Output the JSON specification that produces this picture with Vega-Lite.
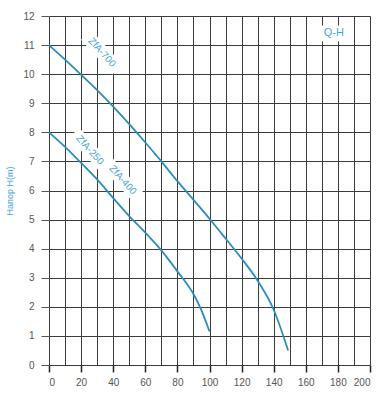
{
  "$schema": "https://vega.github.io/schema/vega-lite/v6.json",
  "width": 321,
  "height": 349,
  "autosize": "none",
  "padding": {"left": 49, "top": 16, "right": 22, "bottom": 35},
  "background": "white",
  "config": {"view": {"stroke": null}, "font": "Liberation Sans"},
  "datasets": {
    "curves": [
      {"curve": "ZfA-250/400", "Q": 0, "H": 8},
      {"curve": "ZfA-250/400", "Q": 10, "H": 7.5},
      {"curve": "ZfA-250/400", "Q": 20, "H": 6.95},
      {"curve": "ZfA-250/400", "Q": 30, "H": 6.38},
      {"curve": "ZfA-250/400", "Q": 40, "H": 5.74},
      {"curve": "ZfA-250/400", "Q": 50, "H": 5.12},
      {"curve": "ZfA-250/400", "Q": 60, "H": 4.55},
      {"curve": "ZfA-250/400", "Q": 70, "H": 3.94},
      {"curve": "ZfA-250/400", "Q": 80, "H": 3.22},
      {"curve": "ZfA-250/400", "Q": 90, "H": 2.44},
      {"curve": "ZfA-250/400", "Q": 95, "H": 1.88},
      {"curve": "ZfA-250/400", "Q": 100, "H": 1.15},
      {"curve": "ZfA-700", "Q": 0, "H": 11},
      {"curve": "ZfA-700", "Q": 10, "H": 10.5},
      {"curve": "ZfA-700", "Q": 20, "H": 9.98},
      {"curve": "ZfA-700", "Q": 30, "H": 9.45},
      {"curve": "ZfA-700", "Q": 40, "H": 8.88},
      {"curve": "ZfA-700", "Q": 50, "H": 8.28},
      {"curve": "ZfA-700", "Q": 60, "H": 7.65},
      {"curve": "ZfA-700", "Q": 70, "H": 7.0},
      {"curve": "ZfA-700", "Q": 80, "H": 6.32},
      {"curve": "ZfA-700", "Q": 90, "H": 5.68},
      {"curve": "ZfA-700", "Q": 100, "H": 5.03},
      {"curve": "ZfA-700", "Q": 110, "H": 4.35},
      {"curve": "ZfA-700", "Q": 120, "H": 3.66},
      {"curve": "ZfA-700", "Q": 130, "H": 2.9},
      {"curve": "ZfA-700", "Q": 140, "H": 1.9},
      {"curve": "ZfA-700", "Q": 149, "H": 0.5}
    ],
    "labels": [
      {"label": "ZfA-700", "Q": 33, "H": 10.75},
      {"label": "ZfA-250", "Q": 25.5, "H": 7.39},
      {"label": "ZfA-400", "Q": 46, "H": 6.36}
    ],
    "title": [
      {"label": "Q-H", "Q": 177.5, "H": 11.4}
    ]
  },
  "encoding": {
    "x": {
      "field": "Q", "type": "quantitative",
      "scale": {"domain": [0, 200], "nice": false, "zero": false},
      "axis": {
        "values": [0,10,20,30,40,50,60,70,80,90,100,110,120,130,140,150,160,170,180,190,200],
        "format": "d",
        "labelExpr": "datum.value % 20 === 0 ? datum.label : ''",
        "labelOverlap": false,
        "grid": true, "gridColor": "#3c3c3c", "gridWidth": 1, "gridOpacity": 1,
        "domain": false,
        "tickColor": "#222222", "tickSize": 7, "tickWidth": 1.5,
        "tickOpacity": {"condition": {"test": "datum.value % 20 !== 0", "value": 0}, "value": 1},
        "labelColor": "#555555", "labelFontSize": 10, "labelPadding": 5,
        "title": null
      }
    },
    "y": {
      "field": "H", "type": "quantitative",
      "scale": {"domain": [0, 12], "nice": false},
      "axis": {
        "values": [0,0.5,1,1.5,2,2.5,3,3.5,4,4.5,5,5.5,6,6.5,7,7.5,8,8.5,9,9.5,10,10.5,11,11.5,12],
        "format": "d",
        "labelExpr": "datum.value % 1 === 0 ? datum.label : ''",
        "labelOverlap": false,
        "grid": true, "gridColor": "#3c3c3c", "gridWidth": 1, "gridOpacity": 1,
        "domain": false,
        "tickColor": "#555555", "tickSize": 8, "tickWidth": 1,
        "tickOpacity": {"condition": {"test": "datum.value % 1 !== 0", "value": 0}, "value": 1},
        "labelColor": "#555555", "labelFontSize": 10, "labelPadding": 7,
        "title": "Напор H(m)", "titleColor": "#4aa6d0", "titleFontSize": 9,
        "titleFontWeight": "normal", "titlePadding": 8
      }
    }
  },
  "layer": [
    {
      "data": {"name": "curves"},
      "mark": {"type": "line", "color": "#2b8dbb", "strokeWidth": 1.8, "interpolate": "monotone"},
      "encoding": {
        "detail": {"field": "curve"}
      }
    },
    {
      "data": {"name": "labels"},
      "mark": {"type": "point", "shape": "M-1,-0.3L1,-0.3L1,0.3L-1,0.3Z", "filled": true, "color": "white", "opacity": 1, "angle": 48, "size": 2200}
    },
    {
      "data": {"name": "labels"},
      "mark": {"type": "text", "color": "#4aa6d0", "fontSize": 10, "angle": 48, "align": "center", "baseline": "middle"},
      "encoding": {
        "text": {"field": "label"}
      }
    },
    {
      "data": {"name": "title"},
      "mark": {"type": "point", "shape": "M-1,-0.5L1,-0.5L1,0.5L-1,0.5Z", "filled": true, "color": "white", "opacity": 1, "size": 1000}
    },
    {
      "data": {"name": "title"},
      "mark": {"type": "text", "color": "#4aa6d0", "fontSize": 11, "align": "center", "baseline": "middle"},
      "encoding": {
        "text": {"field": "label"}
      }
    }
  ]
}
